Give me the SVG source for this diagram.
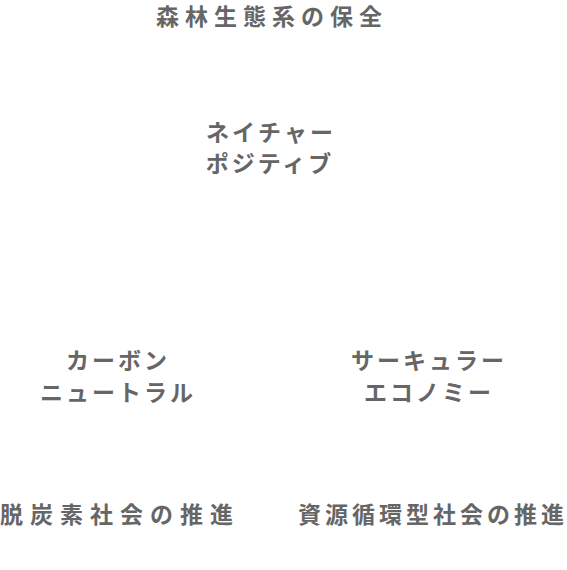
<svg xmlns="http://www.w3.org/2000/svg" width="567" height="570" viewBox="0 0 567 570">
<style>
.t{font-family:"Noto Sans CJK JP","Noto Sans",sans-serif;font-size:23px;font-weight:700;fill:#666;text-anchor:middle}
</style>
<rect width="567" height="570" fill="#fff"/>
<g id="forest"><text class="t" x="272" y="25" style="letter-spacing:6px">森林生態系の保全</text></g>
<g id="nature"><text class="t" x="271" y="141" style="letter-spacing:3px">ネイチャー</text><text class="t" x="270" y="172" style="letter-spacing:3px">ポジティブ</text></g>
<g id="carbon"><text class="t" x="118" y="369" style="letter-spacing:3px">カーボン</text><text class="t" x="118" y="401" style="letter-spacing:3px">ニュートラル</text></g>
<g id="circular"><text class="t" x="429" y="369" style="letter-spacing:3px">サーキュラー</text><text class="t" x="429" y="401" style="letter-spacing:3px">エコノミー</text></g>
<g id="decarb"><text class="t" x="120" y="523" style="letter-spacing:7px">脱炭素社会の推進</text></g>
<g id="resource"><text class="t" x="433" y="523" style="letter-spacing:4px">資源循環型社会の推進</text></g>
<g id="connectors"></g>
</svg>
